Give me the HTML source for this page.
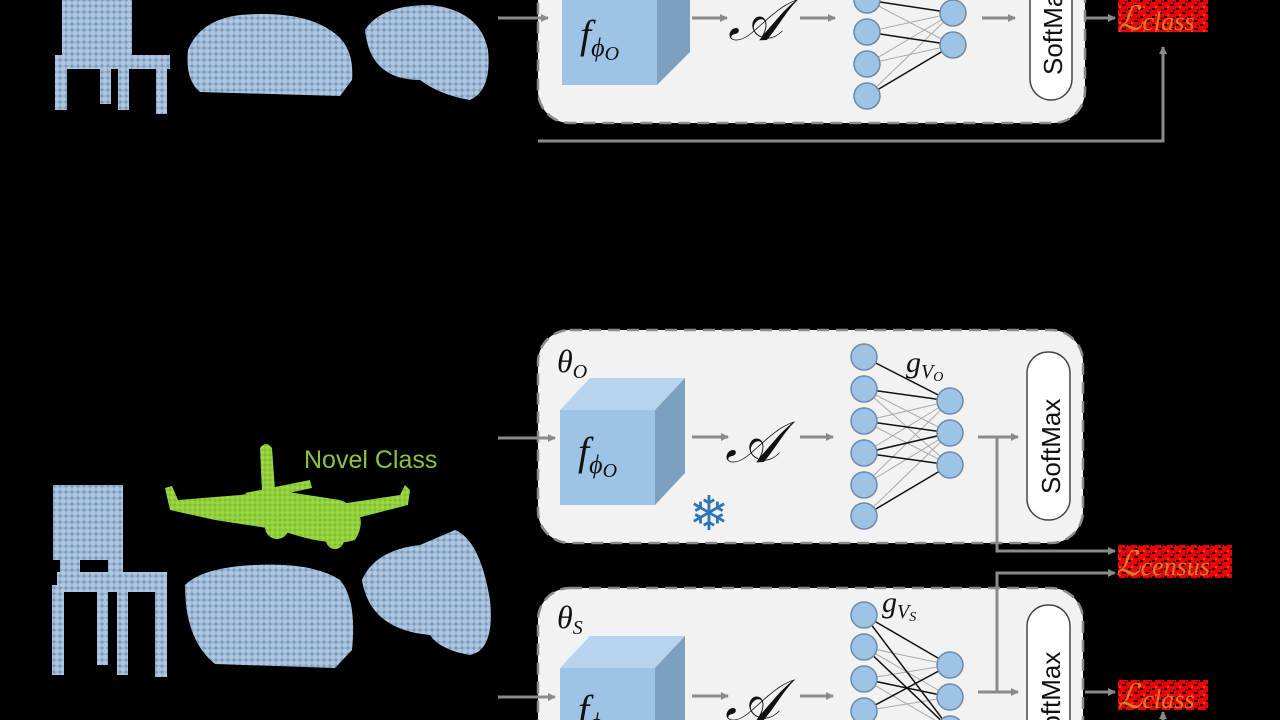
<!DOCTYPE html>
<html><head><meta charset="utf-8"><style>
html,body{margin:0;padding:0;background:#000;width:1280px;height:720px;overflow:hidden;}
svg{display:block}
.m{font-family:"Liberation Serif",serif;font-style:italic;fill:#111}
</style></head><body>
<svg width="1280" height="720" viewBox="0 0 1280 720" xmlns="http://www.w3.org/2000/svg">
<defs>
<pattern id="pc" width="6" height="6" patternUnits="userSpaceOnUse">
<rect width="6" height="6" fill="#7e9cbb"/><circle cx="3" cy="3" r="2.8" fill="#adc7e2"/></pattern>
<pattern id="pg" width="5" height="5" patternUnits="userSpaceOnUse">
<rect width="5" height="5" fill="#7fbf2a"/><circle cx="2.5" cy="2.5" r="2.3" fill="#9ad646"/></pattern>
<pattern id="noise" width="12" height="8" patternUnits="userSpaceOnUse">
<rect width="12" height="8" fill="#e00"/><rect x="0" y="0" width="3" height="2" fill="#200"/><rect x="6" y="4" width="4" height="2" fill="#300"/><rect x="3" y="6" width="2" height="2" fill="#f33"/><rect x="9" y="1" width="2" height="2" fill="#400"/></pattern>
<marker id="ar" markerWidth="8" markerHeight="8" refX="7" refY="4" orient="auto" markerUnits="userSpaceOnUse"><path d="M0,0 L8,4 L0,8 z" fill="#8a8a8a"/></marker>
</defs>
<rect width="1280" height="720" fill="#000"/>

<g fill="url(#pc)">
<rect x="62" y="0" width="70" height="60"/>
<rect x="55" y="55" width="115" height="14"/>
<rect x="55" y="60" width="12" height="50"/><rect x="100" y="62" width="11" height="42"/><rect x="118" y="62" width="11" height="48"/><rect x="156" y="60" width="11" height="54"/>
<path d="M188,50 Q200,20 240,15 Q300,10 330,30 Q355,45 352,80 L340,96 L200,92 Q185,80 188,50 z"/>
<path d="M365,30 Q380,5 430,5 Q480,10 488,50 Q492,90 470,100 Q440,95 420,80 Q370,80 365,30 z"/>
</g>
<g fill="url(#pc)">
<rect x="53" y="485" width="70" height="75"/><rect x="60" y="540" width="20" height="40"/><rect x="108" y="540" width="15" height="40"/>
<rect x="57" y="572" width="110" height="20"/>
<rect x="52" y="585" width="12" height="90"/><rect x="97" y="590" width="11" height="75"/><rect x="117" y="590" width="11" height="85"/><rect x="155" y="585" width="12" height="92"/>
<path d="M185,585 Q200,570 240,566 Q310,560 340,580 Q357,600 352,650 L335,668 L215,664 Q185,640 185,585 z"/>
<path d="M362,580 Q375,550 420,545 L455,530 Q480,540 490,600 Q495,650 470,655 Q440,650 430,635 Q370,630 362,580 z"/>
</g>
<g fill="url(#pg)">
<path d="M260,448 Q266,440 272,448 L275,490 L340,500 Q372,512 355,540 Q330,548 280,530 L215,520 L170,510 L165,488 L172,486 L178,500 L240,495 L262,492 z"/>
<path d="M300,510 L400,495 L405,485 L410,490 L408,505 L330,525 z"/>
<path d="M245,493 L310,480 L312,488 L255,500 z"/>
<circle cx="277" cy="527" r="12"/><circle cx="335" cy="540" r="9"/>
</g>
<text x="304" y="468" font-family="Liberation Sans,sans-serif" font-size="25" fill="#8cc63f">Novel Class</text>

<rect x="538" y="-40" width="547" height="163" rx="32" fill="#f2f2f2" stroke="#8a8a8a" stroke-width="2.5" stroke-dasharray="12,7"/>
<polygon points="657,-10 690,-43 690,52 657,85" fill="#7d9fc0"/>
<rect x="562" y="-10" width="95" height="95" fill="#9dc3e6"/>
<text x="580" y="48" class="m" font-size="40">f<tspan font-size="26" dy="8">ϕ</tspan><tspan font-size="20" dy="4">O</tspan></text>
<text x="728" y="40" class="m" font-size="58">𝒜</text>
<g stroke="#8a8a8a" stroke-width="3" marker-end="url(#ar)">
<line x1="498" y1="18" x2="548" y2="18"/><line x1="692" y1="18" x2="727" y2="18"/><line x1="800" y1="18" x2="835" y2="18"/><line x1="982" y1="18" x2="1015" y2="18"/><line x1="1085" y1="18" x2="1115" y2="18"/>
<polyline points="538,141 1163,141 1163,47" fill="none"/>
</g>
<g stroke="#aaa" stroke-width="1">
<line x1="867" y1="0" x2="953" y2="45"/><line x1="867" y1="32" x2="953" y2="13"/><line x1="867" y1="64" x2="953" y2="13"/><line x1="867" y1="64" x2="953" y2="45"/><line x1="867" y1="96" x2="953" y2="13"/></g>
<g stroke="#111" stroke-width="1.5"><line x1="867" y1="32" x2="953" y2="45"/><line x1="867" y1="96" x2="953" y2="45"/><line x1="867" y1="0" x2="953" y2="13"/></g>
<g fill="#9dc3e6" stroke="#6f8aa6" stroke-width="1.5">
<circle cx="867" cy="0" r="13"/><circle cx="867" cy="32" r="13"/><circle cx="867" cy="64" r="13"/><circle cx="867" cy="96" r="13"/>
<circle cx="953" cy="13" r="13"/><circle cx="953" cy="45" r="13"/></g>
<rect x="1030" y="-60" width="42" height="160" rx="21" fill="#fff" stroke="#444" stroke-width="1.5"/>
<text transform="translate(1062,75) rotate(-90)" font-family="Liberation Sans,sans-serif" font-size="26" fill="#111">SoftMax</text>
<rect x="1118" y="0" width="90" height="32" fill="url(#noise)"/>
<text x="1118" y="30" font-family="Liberation Serif,serif" font-style="italic" font-size="34" fill="#d4802a">ℒ<tspan font-size="26">class</tspan></text>

<rect x="538" y="330" width="545" height="213" rx="32" fill="#f2f2f2" stroke="#8a8a8a" stroke-width="2.5" stroke-dasharray="12,7"/>
<text x="557" y="372" class="m" font-size="32">θ<tspan font-size="20" dy="6">O</tspan></text>
<polygon points="560,410 590,378 685,378 655,410" fill="#b7d3ee"/>
<polygon points="655,410 685,378 685,473 655,505" fill="#7d9fc0"/>
<rect x="560" y="410" width="95" height="95" fill="#9dc3e6"/>
<text x="578" y="465" class="m" font-size="40">f<tspan font-size="26" dy="8">ϕ</tspan><tspan font-size="20" dy="4">O</tspan></text>
<text x="725" y="462" class="m" font-size="58">𝒜</text>
<text x="709" y="530" font-family="DejaVu Sans,sans-serif" font-size="48" fill="#2e75b6" text-anchor="middle">❄</text>
<g stroke="#aaa" stroke-width="1">
<line x1="864" y1="389" x2="950" y2="433"/><line x1="864" y1="389" x2="950" y2="465"/><line x1="864" y1="421" x2="950" y2="401"/><line x1="864" y1="421" x2="950" y2="465"/><line x1="864" y1="453" x2="950" y2="433"/><line x1="864" y1="485" x2="950" y2="401"/><line x1="864" y1="485" x2="950" y2="433"/><line x1="864" y1="516" x2="950" y2="433"/><line x1="864" y1="453" x2="950" y2="401"/></g>
<g stroke="#111" stroke-width="1.5"><line x1="864" y1="357" x2="950" y2="401"/><line x1="864" y1="389" x2="950" y2="401"/><line x1="864" y1="421" x2="950" y2="433"/><line x1="864" y1="453" x2="950" y2="433"/><line x1="864" y1="453" x2="950" y2="465"/><line x1="864" y1="516" x2="950" y2="465"/></g>
<g fill="#9dc3e6" stroke="#6f8aa6" stroke-width="1.5">
<circle cx="864" cy="357" r="13"/><circle cx="864" cy="389" r="13"/><circle cx="864" cy="421" r="13"/><circle cx="864" cy="453" r="13"/><circle cx="864" cy="485" r="13"/><circle cx="864" cy="516" r="13"/>
<circle cx="950" cy="401" r="13"/><circle cx="950" cy="433" r="13"/><circle cx="950" cy="465" r="13"/></g>
<text x="906" y="372" class="m" font-size="30">g<tspan font-size="20" dy="6">V</tspan><tspan font-size="14" dy="3">O</tspan></text>
<rect x="1027" y="352" width="43" height="168" rx="21" fill="#fff" stroke="#444" stroke-width="1.5"/>
<text transform="translate(1060,494) rotate(-90)" font-family="Liberation Sans,sans-serif" font-size="26" fill="#111">SoftMax</text>

<rect x="538" y="588" width="545" height="200" rx="32" fill="#f2f2f2" stroke="#8a8a8a" stroke-width="2.5" stroke-dasharray="12,7"/>
<text x="557" y="628" class="m" font-size="32">θ<tspan font-size="20" dy="6">S</tspan></text>
<polygon points="560,668 590,636 685,636 655,668" fill="#b7d3ee"/>
<polygon points="655,668 685,636 685,731 655,763" fill="#7d9fc0"/>
<rect x="560" y="668" width="95" height="95" fill="#9dc3e6"/>
<text x="578" y="723" class="m" font-size="40">f<tspan font-size="26" dy="8">ϕ</tspan><tspan font-size="20" dy="4">O</tspan></text>
<text x="725" y="720" class="m" font-size="58">𝒜</text>
<g stroke="#aaa" stroke-width="1">
<line x1="864" y1="647" x2="950" y2="665"/><line x1="864" y1="647" x2="950" y2="697"/><line x1="864" y1="679" x2="950" y2="665"/><line x1="864" y1="711" x2="950" y2="697"/><line x1="864" y1="679" x2="950" y2="729"/></g>
<g stroke="#111" stroke-width="1.5"><line x1="864" y1="615" x2="950" y2="665"/><line x1="864" y1="615" x2="950" y2="729"/><line x1="864" y1="647" x2="950" y2="729"/><line x1="864" y1="679" x2="950" y2="697"/><line x1="864" y1="711" x2="950" y2="665"/></g>
<g fill="#9dc3e6" stroke="#6f8aa6" stroke-width="1.5">
<circle cx="864" cy="615" r="13"/><circle cx="864" cy="647" r="13"/><circle cx="864" cy="679" r="13"/><circle cx="864" cy="711" r="13"/>
<circle cx="950" cy="665" r="13"/><circle cx="950" cy="697" r="13"/><circle cx="950" cy="729" r="13"/></g>
<text x="882" y="612" class="m" font-size="30">g<tspan font-size="20" dy="6">V</tspan><tspan font-size="14" dy="3">S</tspan></text>
<rect x="1027" y="605" width="43" height="168" rx="21" fill="#fff" stroke="#444" stroke-width="1.5"/>
<text transform="translate(1060,747) rotate(-90)" font-family="Liberation Sans,sans-serif" font-size="26" fill="#111">SoftMax</text>

<g stroke="#8a8a8a" stroke-width="3" fill="none" marker-end="url(#ar)">
<line x1="498" y1="438" x2="555" y2="438"/><line x1="692" y1="437" x2="728" y2="437"/><line x1="800" y1="437" x2="833" y2="437"/><line x1="978" y1="437" x2="1018" y2="437"/>
<polyline points="997,437 997,551 1115,551"/>
<polyline points="997,692 997,573 1115,573"/>
<line x1="498" y1="697" x2="555" y2="697"/><line x1="692" y1="696" x2="728" y2="696"/><line x1="800" y1="696" x2="833" y2="696"/><line x1="978" y1="692" x2="1018" y2="692"/>
<line x1="1085" y1="692" x2="1115" y2="692"/>
<line x1="1163" y1="725" x2="1163" y2="712"/>
</g>
<rect x="1118" y="545" width="114" height="33" fill="url(#noise)"/>
<text x="1116" y="575" font-family="Liberation Serif,serif" font-style="italic" font-size="34" fill="#d4802a">ℒ<tspan font-size="26">census</tspan></text>
<rect x="1118" y="680" width="90" height="30" fill="url(#noise)"/>
<text x="1118" y="708" font-family="Liberation Serif,serif" font-style="italic" font-size="34" fill="#d4802a">ℒ<tspan font-size="26">class</tspan></text>
</svg>
</body></html>
